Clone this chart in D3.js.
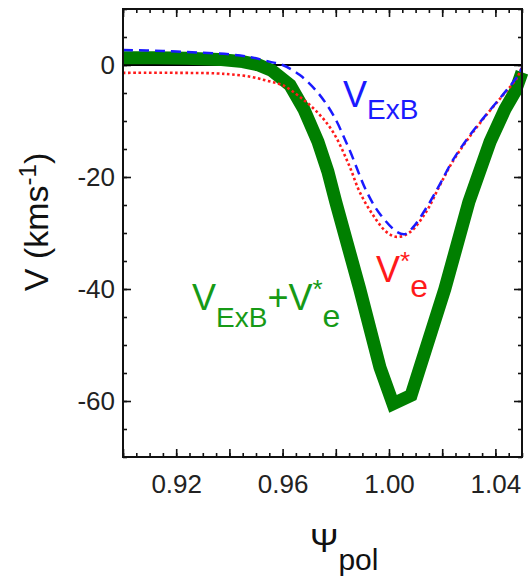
<!DOCTYPE html>
<html>
<head>
<meta charset="utf-8">
<script src="https://cdn.jsdelivr.net/npm/d3@7"></script>
<style>
  body { margin: 0; background: #fff; }
  svg { display: block; font-family: "Liberation Sans", Arial, sans-serif; }
</style>
</head>
<body>
<div id="chart"></div>
<script>
// values
const psiExB = [0.900, 0.915, 0.930, 0.940, 0.948, 0.955, 0.960, 0.9665, 0.973, 0.979, 0.985, 0.9917, 0.9966, 1.003, 1.006, 1.009, 1.0147, 1.019, 1.024, 1.030, 1.037, 1.043, 1.048, 1.050];
const vExB   = [2.7, 2.5, 2.2, 1.9, 1.4, 0.6, 0.0, -1.8, -4.8, -8.9, -15.0, -22.7, -26.6, -29.8, -30.2, -29.0, -25.0, -21.4, -17.0, -12.8, -8.6, -5.2, -2.2, -0.5];

const psiDia = [0.900, 0.920, 0.935, 0.941, 0.948, 0.954, 0.960, 0.9665, 0.973, 0.979, 0.985, 0.989, 0.994, 0.999, 1.003, 1.008, 1.014, 1.019, 1.024, 1.030, 1.037, 1.043, 1.048, 1.050];
const vDia   = [-1.4, -1.4, -1.5, -1.7, -2.1, -2.8, -3.6, -5.7, -8.4, -12.0, -17.9, -22.7, -26.8, -29.8, -30.7, -29.8, -26.2, -21.6, -17.2, -13.0, -8.7, -5.3, -2.4, -0.3];

const psiSum = [0.900, 0.912, 0.924, 0.936, 0.945, 0.951, 0.956, 0.9628, 0.968, 0.9733, 0.977, 0.980, 0.989, 0.9966, 1.0015, 1.0083, 1.021, 1.030, 1.038, 1.0436, 1.0474, 1.050];
const vSum   = [1.3, 1.3, 1.2, 1.0, 0.6, 0.0, -1.0, -3.6, -7.9, -13.7, -19.0, -24.5, -40.0, -54.0, -60.5, -59.0, -40.0, -24.5, -13.7, -7.9, -4.8, -1.3];

const xMajor = [0.90, 0.92, 0.94, 0.96, 0.98, 1.00, 1.02, 1.04];
const xLabels = { "0.92": "0.92", "0.96": "0.96", "1.00": "1.00", "1.04": "1.04" };
const yMajor = [-60, -40, -20, 0];
const yLabels = ["-60", "-40", "-20", "0"];

const W = 529, H = 578;
const margin = { top: 9, right: 7, bottom: 121, left: 123 };
const iw = W - margin.left - margin.right;
const ih = H - margin.top - margin.bottom;

const svg = d3.select("#chart").append("svg").attr("width", W).attr("height", H);
const g = svg.append("g").attr("transform", `translate(${margin.left},${margin.top})`);

const x = d3.scaleLinear().domain([0.90, 1.05]).range([0, iw]);
const y = d3.scaleLinear().domain([-70, 10]).range([ih, 0]);

const xMinor = d3.range(0, 31).map(i => 0.90 + i * 0.005);
const yMinor = d3.range(0, 17).map(i => -70 + i * 5);

function styleAxis(sel) {
  sel.select(".domain").remove();
  sel.selectAll(".tick line").attr("stroke", "#111").attr("stroke-width", 1.6);
  sel.selectAll(".tick text").attr("fill", "#222").attr("font-size", 26)
    .attr("font-family", "Liberation Sans, Arial, sans-serif");
}

// minor ticks, all four sides, inward
g.append("g").attr("transform", `translate(0,${ih})`)
  .call(d3.axisBottom(x).tickValues(xMinor).tickSize(-4).tickFormat("")).call(styleAxis);
g.append("g")
  .call(d3.axisTop(x).tickValues(xMinor).tickSize(-4).tickFormat("")).call(styleAxis);
g.append("g")
  .call(d3.axisLeft(y).tickValues(yMinor).tickSize(-4).tickFormat("")).call(styleAxis);
g.append("g").attr("transform", `translate(${iw},0)`)
  .call(d3.axisRight(y).tickValues(yMinor).tickSize(-4).tickFormat("")).call(styleAxis);

// major ticks
g.append("g").attr("transform", `translate(0,${ih})`)
  .call(d3.axisBottom(x).tickValues(xMajor).tickSize(-8).tickPadding(18)
    .tickFormat(d => xLabels[d.toFixed(2)] || "")).call(styleAxis);
g.append("g")
  .call(d3.axisTop(x).tickValues(xMajor).tickSize(-8).tickFormat("")).call(styleAxis);
g.append("g")
  .call(d3.axisLeft(y).tickValues(yMajor).tickSize(-8).tickPadding(8)
    .tickFormat((d, i) => yLabels[i])).call(styleAxis);
g.append("g").attr("transform", `translate(${iw},0)`)
  .call(d3.axisRight(y).tickValues(yMajor).tickSize(-8).tickFormat("")).call(styleAxis);

// zero line
g.append("line")
  .attr("x1", 0).attr("x2", iw)
  .attr("y1", y(0)).attr("y2", y(0))
  .attr("stroke", "#000").attr("stroke-width", 2);

const smooth = d3.line().curve(d3.curveCatmullRom.alpha(0.5));

// V_ExB + V*_e, thick green polyline
g.append("path")
  .attr("d", d3.line()(psiSum.map((p, i) => [x(p), y(vSum[i])])))
  .attr("fill", "none").attr("stroke", "#007f00").attr("stroke-width", 13)
  .attr("stroke-linejoin", "miter");

// V*_e, red dotted
g.append("path")
  .attr("d", smooth(psiDia.map((p, i) => [x(p), y(vDia[i])])))
  .attr("fill", "none").attr("stroke", "#ff1a1a").attr("stroke-width", 2.6)
  .attr("stroke-dasharray", "2.6,2.6");

// V_ExB, blue dashed
g.append("path")
  .attr("d", smooth(psiExB.map((p, i) => [x(p), y(vExB[i])])))
  .attr("fill", "none").attr("stroke", "#1a1aff").attr("stroke-width", 2.5)
  .attr("stroke-dasharray", "10,6");

// frame
g.append("rect").attr("width", iw).attr("height", ih)
  .attr("fill", "none").attr("stroke", "#111").attr("stroke-width", 2);

// curve labels
function label(px, py, color, parts) {
  const t = svg.append("text").attr("x", px).attr("y", py).attr("fill", color);
  let shift = 0;
  parts.forEach(p => {
    const s = t.append("tspan").text(p.t).attr("font-size", p.size);
    s.attr("dy", p.dy - shift);
    shift = p.dy;
  });
  return t;
}
label(343, 107, "#1a1aff", [
  { t: "V", size: 36, dy: 0 },
  { t: "ExB", size: 28, dy: 12 }
]);
label(376, 282, "#ff1a1a", [
  { t: "V", size: 36, dy: 0 },
  { t: "*", size: 26, dy: -12 },
  { t: "e", size: 32, dy: 15 }
]);
label(192, 310, "#169a16", [
  { t: "V", size: 36, dy: 0 },
  { t: "ExB", size: 28, dy: 17 },
  { t: "+V", size: 36, dy: 0 },
  { t: "*", size: 26, dy: -12 },
  { t: "e", size: 32, dy: 17 }
]);

// axis titles
svg.append("text")
  .attr("transform", "translate(48,222) rotate(-90)")
  .attr("text-anchor", "middle").attr("fill", "#111").attr("font-size", 34)
  .call(t => {
    t.append("tspan").text("V (kms");
    t.append("tspan").text("-1").attr("font-size", 24).attr("dy", -12);
    t.append("tspan").text(")").attr("dy", 12);
  });

svg.append("text")
  .attr("x", 310).attr("y", 552).attr("fill", "#111")
  .call(t => {
    t.append("tspan").text("\u03a8").attr("font-size", 34);
    t.append("tspan").text("pol").attr("font-size", 30).attr("dy", 18);
  });
</script>
</body>
</html>
